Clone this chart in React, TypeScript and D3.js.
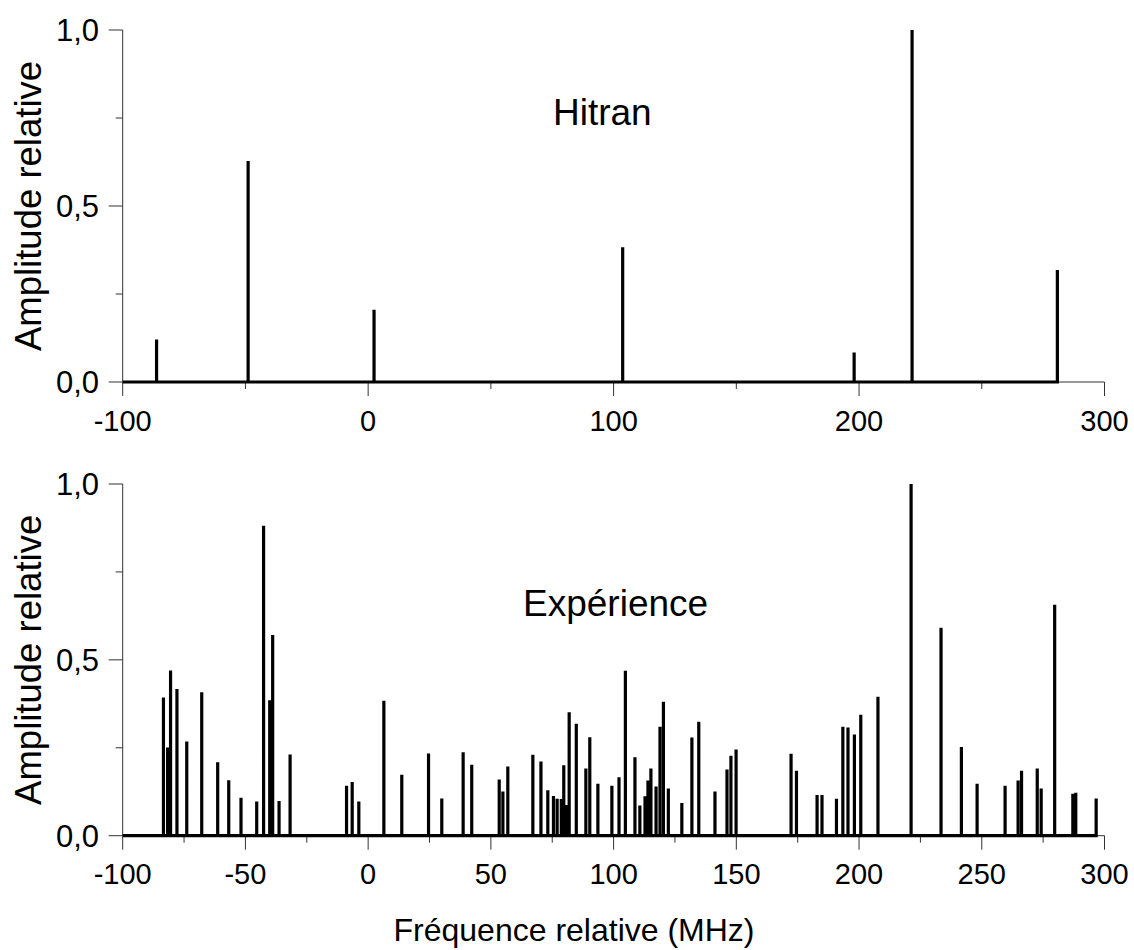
import React from "react";
import * as d3 from "d3";

const hitranFreq = [-86.2, -48.9, 2.4, 103.7, 198.0, 221.6, 280.8];
const hitranAmp = [0.121, 0.628, 0.205, 0.383, 0.084, 1.0, 0.318];

const expFreq = [
  -83.4, -81.7, -80.5, -77.9, -73.9, -67.8, -61.3, -56.8, -51.8, -45.4,
  -42.6, -40.1, -38.9, -36.3, -31.8, -8.8, -6.5, -3.8, 6.4, 13.7,
  24.6, 30.0, 38.7, 42.2, 53.4, 54.9, 56.9, 67.1, 70.4, 73.2,
  75.5, 77.0, 78.7, 79.7, 80.8, 81.9, 84.8, 88.7, 90.3, 93.6,
  99.3, 102.2, 104.8, 108.7, 110.7, 112.8, 114.0, 115.2, 117.3, 118.9,
  120.3, 122.3, 127.8, 131.9, 134.7, 141.3, 146.2, 147.8, 149.9, 172.3,
  174.5, 182.9, 184.9, 190.8, 193.4, 195.5, 198.1, 200.7, 207.7, 221.2,
  233.4, 241.7, 248.1, 259.5, 264.8, 266.2, 272.6, 274.2, 279.7, 287.1,
  288.3, 296.6,
];
const expAmp = [
  0.393, 0.251, 0.470, 0.417, 0.268, 0.408, 0.209, 0.158, 0.108, 0.097,
  0.881, 0.385, 0.571, 0.099, 0.231, 0.142, 0.153, 0.097, 0.384, 0.173,
  0.234, 0.106, 0.237, 0.202, 0.160, 0.126, 0.197, 0.230, 0.211, 0.129,
  0.113, 0.105, 0.104, 0.200, 0.087, 0.351, 0.318, 0.191, 0.280, 0.148,
  0.142, 0.166, 0.469, 0.223, 0.086, 0.112, 0.157, 0.191, 0.140, 0.310,
  0.381, 0.134, 0.093, 0.279, 0.324, 0.126, 0.188, 0.227, 0.245, 0.233,
  0.185, 0.116, 0.116, 0.105, 0.310, 0.308, 0.288, 0.344, 0.395, 1.0,
  0.591, 0.252, 0.148, 0.142, 0.157, 0.185, 0.191, 0.134, 0.657, 0.119,
  0.122, 0.106,
];

const topMajorX = [-100, 0, 100, 200, 300];
const topMinorX = [-50, 50, 150, 250];
const botMajorX = [-100, -50, 0, 50, 100, 150, 200, 250, 300];
const botMinorX = [-75, -25, 25, 75, 125, 175, 225, 275];
const majorY = [0, 0.5, 1];
const minorY = [0.25, 0.75];

const FONT = "'Liberation Sans', Arial, Helvetica, sans-serif";
const fmtY = (v: number) => d3.format(".1f")(v).replace(".", ",");

type PanelProps = {
  freq: number[];
  amp: number[];
  y0: number;
  y1: number;
  majorX: number[];
  minorX: number[];
  title: string;
  titleX: number;
  titleY: number;
};

function Panel({ freq, amp, y0, y1, majorX, minorX, title, titleX, titleY }: PanelProps) {
  const x = d3.scaleLinear().domain([-100, 300]).range([122.7, 1104.5]);
  const y = d3.scaleLinear().domain([0, 1]).range([y0, y1]);
  const pts: [number, number][] = [[-100, 0]];
  freq.forEach((f, i) => {
    pts.push([f, 0], [f, amp[i]], [f, 0]);
  });
  const line = d3
    .line<[number, number]>()
    .x((d) => x(d[0]))
    .y((d) => y(d[1]));
  const axisColor = "#333";
  return (
    <g>
      <line x1={x(-100)} x2={x(300)} y1={y(0)} y2={y(0)} stroke={axisColor} strokeWidth={1} />
      <line x1={x(-100)} x2={x(-100)} y1={y(0)} y2={y(1)} stroke={axisColor} strokeWidth={1} />
      {majorX.map((v) => (
        <g key={"mx" + v}>
          <line x1={x(v)} x2={x(v)} y1={y(0)} y2={y(0) + 14} stroke={axisColor} strokeWidth={1} />
          <text x={x(v)} y={y(0) + 48.5} textAnchor="middle" fontSize={29} fontFamily={FONT} fill="#000">
            {v}
          </text>
        </g>
      ))}
      {minorX.map((v) => (
        <line key={"nx" + v} x1={x(v)} x2={x(v)} y1={y(0)} y2={y(0) + 7} stroke={axisColor} strokeWidth={1} />
      ))}
      {majorY.map((v) => (
        <g key={"my" + v}>
          <line x1={x(-100) - 14} x2={x(-100)} y1={y(v)} y2={y(v)} stroke={axisColor} strokeWidth={1} />
          <text x={99} y={y(v)} dy="0.36em" textAnchor="end" fontSize={31} fontFamily={FONT} fill="#000">
            {fmtY(v)}
          </text>
        </g>
      ))}
      {minorY.map((v) => (
        <line key={"ny" + v} x1={x(-100) - 7} x2={x(-100)} y1={y(v)} y2={y(v)} stroke={axisColor} strokeWidth={1} />
      ))}
      <path d={line(pts) || ""} fill="none" stroke="#000" strokeWidth={3.2} />
      <text
        transform={`translate(41, ${(y0 + y1) / 2}) rotate(-90)`}
        textAnchor="middle"
        fontSize={36.5}
        fontFamily={FONT}
        fill="#000"
      >
        Amplitude relative
      </text>
      <text x={titleX} y={titleY} fontSize={37} fontFamily={FONT} fill="#000">
        {title}
      </text>
    </g>
  );
}

export default function App() {
  return (
    <svg
      width={1134}
      height={950}
      style={{ position: "absolute", left: 0, top: 0, background: "#fff" }}
    >
      <rect x={0} y={0} width={1134} height={950} fill="#fff" />
      <Panel
        freq={hitranFreq}
        amp={hitranAmp}
        y0={382}
        y1={30}
        majorX={topMajorX}
        minorX={topMinorX}
        title="Hitran"
        titleX={553}
        titleY={125}
      />
      <Panel
        freq={expFreq}
        amp={expAmp}
        y0={835.7}
        y1={484}
        majorX={botMajorX}
        minorX={botMinorX}
        title="Expérience"
        titleX={523}
        titleY={616}
      />
      <text x={574} y={941} textAnchor="middle" fontSize={32} fontFamily={FONT} fill="#000">
        Fréquence relative (MHz)
      </text>
    </svg>
  );
}
